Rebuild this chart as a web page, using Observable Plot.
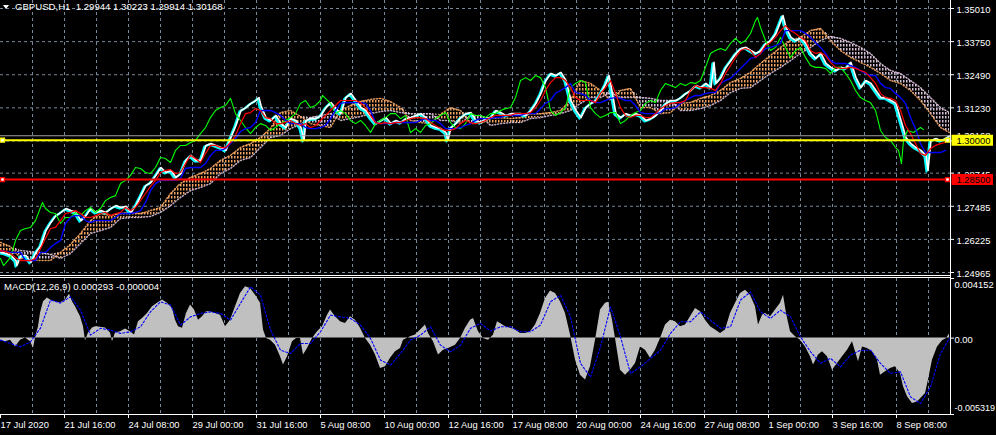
<!DOCTYPE html>
<html>
<head>
<meta charset="utf-8">
<script src="https://cdn.jsdelivr.net/npm/d3@7"></script>
<script src="https://cdn.jsdelivr.net/npm/@observablehq/plot@0.6"></script>
<style>
html,body{margin:0;padding:0;background:#000;}
#chart{position:relative;width:996px;height:435px;background:#000;overflow:hidden;font-family:"Liberation Sans",Arial,sans-serif;color:#fff;}
#chart svg{position:absolute;left:0;}
.lbl{position:absolute;font-size:9.6px;line-height:12px;white-space:pre;color:#fff;}
.hl{position:absolute;background:#fff;}
</style>
</head>
<body>
<div id="chart"></div>
<script>
// ---------- DATA ----------
const symbolTitle = "GBPUSD,H1  1.29944 1.30223 1.29914 1.30168";
const macdTitle = "MACD(12,26,9) 0.000293 -0.000004";

const priceTicks = [1.35010, 1.33750, 1.32490, 1.31230, 1.29970, 1.28745, 1.27485, 1.26225, 1.24965];
const priceTickLabelsShown = [1.35010, 1.33750, 1.32490, 1.31230, 1.28745, 1.27485, 1.26225, 1.24965];
const macdTicks = [0.004152, 0, -0.005319];
const macdTickLabels = ["0.004152", "0.00", "-0.005319"];
const timeTicks = [0, 64, 128, 192, 256, 320, 384, 448, 512, 576, 640, 704, 768, 832, 896];
const timeLabels = ["17 Jul 2020", "21 Jul 16:00", "24 Jul 08:00", "29 Jul 00:00", "31 Jul 16:00", "5 Aug 08:00",
  "10 Aug 00:00", "12 Aug 16:00", "17 Aug 08:00", "20 Aug 00:00", "24 Aug 16:00", "27 Aug 08:00",
  "1 Sep 00:00", "3 Sep 16:00", "8 Sep 08:00"];

const lastPrice = 1.30168;
const levelYellow = 1.30000;
const levelRed = 1.28500;

// price (bar index, close)
const price = [[0,1.2573],[5,1.2569],[10,1.2561],[15,1.2542],[16,1.2523],[20,1.2561],[25,1.2561],[30,1.2535],[35,1.2573],[40,1.2599],
[45,1.2656],[50,1.2687],[55,1.2713],[60,1.2725],[65,1.2740],[70,1.2732],[75,1.2725],[80,1.2694],[85,1.2713],[90,1.2740],
[95,1.2725],[100,1.2732],[105,1.2725],[110,1.2740],[115,1.2751],[120,1.2744],[125,1.2748],[130,1.2725],[135,1.2751],[140,1.2789],
[145,1.2828],[150,1.2839],[155,1.2866],[160,1.2896],[165,1.2877],[170,1.2885],[175,1.2858],[180,1.2873],[185,1.2923],[190,1.2942],
[195,1.2923],[200,1.2923],[205,1.2980],[210,1.2987],[215,1.2980],[220,1.2972],[225,1.2961],[230,1.3010],[235,1.3056],[240,1.3113],
[245,1.3124],[250,1.3140],[255,1.3151],[258,1.3162],[260,1.3132],[265,1.3086],[270,1.3075],[275,1.3094],[280,1.3063],[285,1.3048],
[290,1.3082],[295,1.3075],[300,1.3048],[303,1.2999],[305,1.3075],[310,1.3082],[315,1.3082],[320,1.3094],[325,1.3124],[330,1.3143],
[335,1.3120],[340,1.3101],[345,1.3162],[350,1.3178],[355,1.3151],[360,1.3124],[365,1.3113],[370,1.3086],[375,1.3063],[380,1.3075],
[385,1.3086],[390,1.3063],[395,1.3075],[400,1.3067],[405,1.3082],[410,1.3086],[415,1.3094],[420,1.3101],[425,1.3086],[430,1.3056],
[435,1.3048],[440,1.3044],[445,1.3029],[447,1.2999],[450,1.3048],[455,1.3063],[460,1.3086],[465,1.3101],[470,1.3105],[475,1.3075],
[480,1.3067],[485,1.3082],[490,1.3086],[495,1.3113],[500,1.3105],[505,1.3094],[510,1.3101],[515,1.3101],[520,1.3101],[525,1.3094],
[530,1.3113],[535,1.3140],[540,1.3178],[545,1.3227],[550,1.3254],[555,1.3246],[560,1.3258],[565,1.3227],[570,1.3151],[575,1.3113],
[580,1.3086],[585,1.3124],[590,1.3140],[595,1.3151],[600,1.3178],[605,1.3216],[608,1.3246],[610,1.3208],[615,1.3101],[620,1.3086],
[625,1.3101],[630,1.3094],[635,1.3101],[640,1.3094],[645,1.3075],[650,1.3082],[655,1.3094],[660,1.3113],[665,1.3140],[670,1.3151],
[675,1.3151],[680,1.3162],[685,1.3178],[690,1.3189],[695,1.3208],[700,1.3200],[705,1.3216],[710,1.3200],[713,1.3296],[715,1.3216],
[720,1.3238],[725,1.3277],[730,1.3303],[735,1.3330],[740,1.3349],[745,1.3353],[750,1.3341],[755,1.3330],[760,1.3341],[765,1.3368],
[770,1.3379],[775,1.3406],[780,1.3455],[782,1.3474],[785,1.3429],[790,1.3391],[795,1.3379],[800,1.3391],[805,1.3368],[810,1.3330],
[815,1.3311],[820,1.3330],[825,1.3292],[830,1.3277],[835,1.3265],[840,1.3277],[845,1.3273],[850,1.3296],[855,1.3238],[860,1.3200],
[865,1.3227],[870,1.3216],[875,1.3189],[880,1.3162],[885,1.3162],[890,1.3151],[895,1.3140],[900,1.3075],[905,1.3010],[910,1.2987],
[915,1.2972],[920,1.2961],[925,1.2942],[927,1.2885],[930,1.2999],[935,1.3006],[940,1.2999],[945,1.3006],[949,1.3017]];

// Ichimoku lines sampled every 5 bars, from bar 0 to bar 945
const ichiBars = d3.range(0, 946, 5);
const tenkan = [
1.2580,1.2576,1.2569,1.2554,1.2542,1.2542,1.2542,1.2550,1.2588,1.2626,
1.2664,1.2668,1.2694,1.2721,1.2725,1.2732,1.2721,1.2706,1.2706,1.2713,
1.2721,1.2725,1.2713,1.2721,1.2725,1.2744,1.2732,1.2744,1.2770,1.2797,
1.2824,1.2847,1.2877,1.2885,1.2888,1.2873,1.2877,1.2911,1.2942,1.2930,
1.2915,1.2949,1.2980,1.2980,1.2972,1.2972,1.2991,1.3018,1.3063,1.3101,
1.3105,1.3120,1.3113,1.3086,1.3082,1.3063,1.3063,1.3067,1.3075,1.3063,
1.3056,1.3063,1.3048,1.3056,1.3075,1.3094,1.3113,1.3132,1.3151,1.3151,
1.3151,1.3151,1.3143,1.3124,1.3094,1.3067,1.3063,1.3067,1.3063,1.3067,
1.3067,1.3075,1.3082,1.3086,1.3086,1.3082,1.3067,1.3056,1.3044,1.3037,
1.3037,1.3044,1.3063,1.3075,1.3067,1.3063,1.3067,1.3075,1.3086,1.3094,
1.3094,1.3094,1.3094,1.3101,1.3101,1.3101,1.3105,1.3124,1.3151,1.3189,
1.3219,1.3238,1.3238,1.3227,1.3200,1.3162,1.3151,1.3151,1.3151,1.3143,
1.3178,1.3200,1.3227,1.3178,1.3124,1.3094,1.3086,1.3094,1.3094,1.3086,
1.3086,1.3101,1.3120,1.3132,1.3140,1.3143,1.3143,1.3151,1.3189,1.3208,
1.3200,1.3200,1.3197,1.3189,1.3216,1.3254,1.3284,1.3315,1.3341,1.3349,
1.3341,1.3315,1.3330,1.3360,1.3372,1.3391,1.3417,1.3436,1.3417,1.3406,
1.3391,1.3379,1.3341,1.3330,1.3334,1.3322,1.3296,1.3277,1.3273,1.3273,
1.3277,1.3273,1.3265,1.3258,1.3238,1.3216,1.3178,1.3162,1.3159,1.3151,
1.3113,1.3056,1.3025,1.2987,1.2949,1.2942,1.2968,1.2980,1.2987,1.2991];
const kijun = [
1.2580,1.2576,1.2573,1.2573,1.2573,1.2542,1.2542,1.2542,1.2573,1.2573,
1.2592,1.2607,1.2618,1.2683,1.2706,1.2713,1.2713,1.2694,1.2687,1.2694,
1.2694,1.2694,1.2694,1.2706,1.2721,1.2721,1.2721,1.2725,1.2732,1.2763,
1.2808,1.2835,1.2847,1.2847,1.2847,1.2847,1.2854,1.2892,1.2896,1.2896,
1.2896,1.2911,1.2942,1.2961,1.2961,1.2968,1.2987,1.3006,1.3033,1.3044,
1.3048,1.3067,1.3113,1.3113,1.3113,1.3105,1.3094,1.3075,1.3063,1.3063,
1.3063,1.3048,1.3044,1.3044,1.3048,1.3056,1.3082,1.3113,1.3140,1.3143,
1.3143,1.3143,1.3143,1.3140,1.3113,1.3067,1.3063,1.3063,1.3063,1.3067,
1.3067,1.3067,1.3067,1.3067,1.3075,1.3082,1.3075,1.3075,1.3063,1.3044,
1.3044,1.3044,1.3048,1.3056,1.3063,1.3075,1.3082,1.3082,1.3082,1.3086,
1.3086,1.3094,1.3094,1.3094,1.3094,1.3101,1.3101,1.3101,1.3120,1.3140,
1.3151,1.3178,1.3189,1.3200,1.3216,1.3181,1.3178,1.3170,1.3151,1.3143,
1.3143,1.3151,1.3159,1.3162,1.3159,1.3151,1.3151,1.3132,1.3105,1.3101,
1.3101,1.3101,1.3105,1.3120,1.3120,1.3124,1.3140,1.3151,1.3162,1.3170,
1.3170,1.3178,1.3181,1.3181,1.3216,1.3227,1.3235,1.3254,1.3273,1.3292,
1.3311,1.3315,1.3330,1.3349,1.3353,1.3360,1.3368,1.3417,1.3417,1.3417,
1.3417,1.3406,1.3391,1.3372,1.3353,1.3330,1.3303,1.3292,1.3292,1.3292,
1.3284,1.3277,1.3265,1.3254,1.3246,1.3246,1.3216,1.3200,1.3197,1.3178,
1.3162,1.3140,1.3086,1.3044,1.2987,1.2953,1.2953,1.2953,1.2953,1.2961];

// Chikou span (bar index, value)
const chikou = [[0,1.2550],[3,1.2523],[5,1.2531],[10,1.2554],[15,1.2618],[20,1.2656],[25,1.2664],[30,1.2668],[35,1.2694],[40,1.2744],
[42,1.2763],[45,1.2740],[50,1.2725],[55,1.2721],[60,1.2683],[65,1.2706],[70,1.2706],[75,1.2725],[80,1.2713],[85,1.2732],
[90,1.2744],[95,1.2725],[100,1.2740],[105,1.2770],[110,1.2782],[115,1.2789],[120,1.2835],[125,1.2847],[130,1.2866],[135,1.2896],
[140,1.2892],[145,1.2877],[150,1.2873],[155,1.2896],[160,1.2934],[165,1.2930],[170,1.2915],[175,1.2961],[180,1.2980],[185,1.2980],
[190,1.2991],[195,1.2999],[200,1.3025],[205,1.3048],[210,1.3086],[215,1.3113],[220,1.3124],[225,1.3132],[230,1.3159],[235,1.3101],
[240,1.3075],[245,1.3048],[250,1.3025],[255,1.3048],[260,1.3063],[265,1.3056],[270,1.3037],[275,1.3048],[280,1.3063],[285,1.3075],
[290,1.3086],[295,1.3101],[300,1.3140],[305,1.3151],[310,1.3124],[315,1.3132],[320,1.3151],[322,1.3170],[325,1.3159],[330,1.3140],
[335,1.3101],[340,1.3113],[345,1.3101],[350,1.3075],[355,1.3063],[360,1.3075],[365,1.3056],[370,1.3029],[375,1.3063],[380,1.3075],
[385,1.3086],[390,1.3101],[395,1.3101],[400,1.3082],[405,1.3094],[410,1.3029],[415,1.3044],[420,1.3029],[425,1.3056],[430,1.3063],
[435,1.3082],[440,1.3094],[445,1.3105],[450,1.3067],[455,1.3048],[460,1.3044],[465,1.3063],[470,1.3101],[475,1.3094],[480,1.3094],
[485,1.3086],[490,1.3101],[495,1.3101],[500,1.3113],[505,1.3120],[510,1.3124],[515,1.3162],[520,1.3227],[525,1.3238],[530,1.3227],
[535,1.3246],[540,1.3238],[545,1.3200],[550,1.3113],[555,1.3094],[560,1.3105],[565,1.3124],[570,1.3200],[575,1.3216],[580,1.3227],
[585,1.3219],[590,1.3124],[595,1.3101],[600,1.3086],[605,1.3094],[610,1.3105],[615,1.3105],[620,1.3063],[625,1.3075],[630,1.3094],
[635,1.3105],[640,1.3113],[645,1.3140],[650,1.3151],[655,1.3143],[660,1.3189],[665,1.3216],[670,1.3208],[675,1.3200],[680,1.3216],
[685,1.3208],[690,1.3219],[695,1.3216],[700,1.3227],[705,1.3277],[710,1.3330],[715,1.3341],[720,1.3349],[725,1.3341],[730,1.3368],
[735,1.3387],[740,1.3368],[745,1.3379],[750,1.3406],[755,1.3455],[757,1.3467],[760,1.3429],[765,1.3379],[770,1.3341],[775,1.3353],
[780,1.3391],[785,1.3353],[790,1.3315],[795,1.3341],[800,1.3353],[805,1.3315],[810,1.3284],[815,1.3277],[820,1.3277],[825,1.3273],
[830,1.3254],[835,1.3277],[840,1.3277],[845,1.3254],[850,1.3227],[855,1.3189],[860,1.3162],[865,1.3151],[870,1.3143],[875,1.3113],
[880,1.3037],[885,1.3010],[890,1.2999],[895,1.2972],[898,1.2961],[901,1.2911],[903,1.2999],[907,1.3037],[913,1.3029],[920,1.3048],[923,1.3040]];

// Kumo (bar index, Senkou span A, Senkou span B)
const kumo = [[0,1.2611,1.2573],[10,1.2595,1.2565],[20,1.2550,1.2580],[30,1.2546,1.2576],[40,1.2542,1.2573],[50,1.2542,1.2565],
[60,1.2573,1.2550],[70,1.2603,1.2569],[80,1.2645,1.2607],[90,1.2694,1.2645],[100,1.2721,1.2656],[110,1.2713,1.2668],
[120,1.2721,1.2702],[130,1.2725,1.2706],[140,1.2721,1.2706],[150,1.2732,1.2710],[160,1.2744,1.2725],[170,1.2797,1.2751],
[180,1.2835,1.2782],[190,1.2858,1.2808],[200,1.2873,1.2820],[210,1.2892,1.2835],[220,1.2923,1.2873],[230,1.2942,1.2892],
[240,1.2972,1.2923],[250,1.2987,1.2934],[260,1.3010,1.2972],[270,1.3044,1.3010],[280,1.3105,1.3018],[290,1.3113,1.3044],
[300,1.3090,1.3060],[310,1.3063,1.3086],[320,1.3056,1.3094],[330,1.3048,1.3101],[340,1.3113,1.3075],[350,1.3132,1.3082],
[360,1.3147,1.3090],[370,1.3155,1.3101],[380,1.3159,1.3109],[390,1.3147,1.3113],[400,1.3124,1.3105],[410,1.3075,1.3101],
[420,1.3067,1.3101],[430,1.3063,1.3101],[440,1.3098,1.3075],[450,1.3124,1.3075],[460,1.3113,1.3063],[470,1.3063,1.3094],
[480,1.3063,1.3094],[490,1.3082,1.3056],[500,1.3086,1.3063],[510,1.3082,1.3067],[520,1.3086,1.3067],[530,1.3101,1.3082],
[540,1.3101,1.3086],[550,1.3105,1.3094],[560,1.3113,1.3101],[570,1.3151,1.3113],[580,1.3227,1.3140],[590,1.3216,1.3162],
[600,1.3189,1.3162],[610,1.3151,1.3181],[620,1.3189,1.3162],[630,1.3197,1.3162],[640,1.3124,1.3162],[650,1.3124,1.3159],
[660,1.3101,1.3151],[670,1.3105,1.3151],[680,1.3140,1.3113],[690,1.3143,1.3113],[700,1.3159,1.3120],[710,1.3170,1.3132],
[720,1.3189,1.3151],[730,1.3219,1.3181],[740,1.3235,1.3197],[750,1.3258,1.3200],[760,1.3292,1.3227],[770,1.3322,1.3254],
[780,1.3353,1.3277],[790,1.3379,1.3303],[800,1.3391,1.3330],[810,1.3417,1.3353],[820,1.3425,1.3379],[830,1.3379,1.3395],
[840,1.3341,1.3387],[850,1.3315,1.3372],[860,1.3296,1.3353],[870,1.3277,1.3330],[880,1.3254,1.3292],[890,1.3227,1.3265],
[900,1.3216,1.3254],[910,1.3189,1.3227],[920,1.3151,1.3200],[930,1.3101,1.3162],[940,1.3048,1.3124],[949,1.3029,1.3105]];

// MACD main (bar index, value)
const macd = [[0,-0.00014],[5,-0.00026],[10,-0.00014],[15,-0.00061],[20,-0.00014],[25,0],[30,-0.00026],[33,-0.0007],[35,0],[38,0.00079],
[40,0.00174],[43,0.00253],[47,0.00279],[50,0.00265],[55,0.00253],[60,0.00244],[65,0.00265],[69,0.00306],[72,0.00253],[75,0.00218],
[80,0.00148],[83,0.00079],[85,-0.00019],[88,0.00035],[92,0.0007],[95,0.00079],[100,0.00075],[105,0.0007],[110,0.00035],[112,-0.00026],
[115,0.00035],[120,0.00044],[125,0.00063],[130,0.00044],[134,0.00021],[138,0.00114],[142,0.00137],[147,0.00172],[152,0.00218],[157,0.00242],
[162,0.00265],[167,0.00242],[172,0.00207],[175,0.00125],[178,0.00079],[182,0.00068],[186,0.00172],[190,0.0023],[194,0.00195],[198,0.00125],
[202,0.00148],[206,0.00183],[210,0.00183],[215,0.00172],[220,0.0016],[225,0.00079],[230,0.00125],[235,0.00218],[240,0.00311],[245,0.00357],
[250,0.00346],[255,0.00299],[260,0.00242],[263,0.00056],[266,-0.00002],[270,-0.00014],[275,-0.00049],[280,-0.0013],[283,-0.00188],[287,-0.0013],
[292,-0.00026],[296,-0.00002],[300,-0.00002],[303,-0.00118],[307,-0.00072],[312,-0.00002],[317,0.00044],[322,0.00079],[327,0.0016],[330,0.00195],
[335,0.00148],[340,0.00114],[345,0.00102],[350,0.00148],[355,0.00125],[360,0.00068],[365,-0.00002],[370,-0.00049],[375,-0.00118],[380,-0.00211],
[385,-0.002],[390,-0.00141],[395,-0.00095],[400,-0.00072],[403,-0.00014],[410,0.00009],[415,0.00021],[420,0.00056],[425,0.00091],[428,0.00033],
[433,-0.00026],[438,-0.00118],[443,-0.00084],[448,-0.00072],[455,-0.00049],[460,-0.00002],[465,0.00068],[470,0.00125],[473,0.00137],[478,0.00044],
[483,-0.00002],[488,-0.00014],[493,0.00021],[497,0.00114],[500,0.00102],[505,0.00079],[510,0.00068],[515,0.00056],[520,0.00033],[525,0.00033],
[530,0.00044],[535,0.00091],[540,0.00172],[545,0.00276],[550,0.00329],[555,0.00311],[560,0.00253],[565,0.00172],[570,0.00021],[575,-0.00153],
[580,-0.00258],[585,-0.00292],[590,-0.002],[595,-0.00014],[600,0.00195],[605,0.00242],[608,0.00249],[612,0.00125],[615,-0.00002],[620,-0.00223],
[625,-0.00258],[630,-0.00223],[635,-0.00176],[640,-0.00061],[645,-0.00084],[650,-0.00141],[655,-0.00084],[660,-0.00002],[665,0.00091],[670,0.00125],
[675,0.00114],[680,0.00079],[685,0.00091],[690,0.00148],[695,0.00207],[700,0.00183],[705,0.00125],[710,0.00079],[715,0.00056],[720,0.00033],
[725,0.00056],[730,0.00172],[735,0.00242],[740,0.00311],[745,0.00334],[750,0.00299],[755,0.00218],[758,0.00091],[762,0.0016],[765,0.00172],
[770,0.00148],[775,0.00195],[780,0.00242],[783,0.00299],[786,0.00172],[790,0.00044],[795,0.00009],[800,-0.00014],[805,-0.00061],[810,-0.0013],
[813,-0.00188],[818,-0.00118],[822,-0.00095],[827,-0.0013],[832,-0.00223],[837,-0.00176],[842,-0.0013],[847,-0.00084],[852,-0.00026],[855,-0.00095],
[858,-0.00165],[862,-0.00061],[867,-0.00072],[872,-0.00095],[877,-0.00153],[880,-0.00258],[885,-0.00235],[890,-0.00211],[895,-0.002],[900,-0.00246],
[903,-0.00339],[907,-0.00409],[912,-0.00455],[917,-0.00444],[922,-0.00409],[925,-0.00385],[928,-0.00292],[932,-0.00153],[937,-0.00061],[942,-0.00019],
[946,-0.00002],[949,0.000293]];

// MACD signal (bar index, value)
const signal = [[0,-0.00014],[20,-0.00061],[30,-0.00026],[40,0.0007],[50,0.00265],[60,0.00244],[70,0.00288],[80,0.00195],[90,0.00021],[100,0.00068],
[110,0.00056],[120,0.00033],[130,0.00044],[140,0.00079],[150,0.00183],[160,0.00253],[170,0.0023],[180,0.00091],[190,0.00148],[200,0.00172],
[210,0.00183],[220,0.00172],[230,0.00125],[240,0.00242],[250,0.00357],[260,0.00299],[270,0.00056],[280,-0.00084],[290,-0.00107],[300,-0.00037],
[310,-0.00037],[320,0.00044],[330,0.0016],[340,0.00148],[350,0.00137],[360,0.00091],[370,-0.00002],[380,-0.00153],[390,-0.00188],[400,-0.00107],
[410,-0.00014],[420,0.00021],[430,0.00079],[440,-0.00049],[450,-0.00095],[460,-0.00049],[470,0.00068],[480,0.00102],[490,0.0005],[500,0.00079],
[510,0.00079],[520,0.00044],[530,0.00044],[540,0.00091],[550,0.00253],[560,0.00299],[570,0.00148],[580,-0.00176],[590,-0.0027],[600,-0.00061],
[610,0.00218],[620,0.00009],[630,-0.00246],[640,-0.002],[650,-0.00141],[660,-0.00084],[670,0.00033],[680,0.00114],[690,0.00114],[700,0.00183],
[710,0.00125],[720,0.00068],[730,0.00079],[740,0.00265],[750,0.00322],[760,0.00183],[770,0.00137],[780,0.00195],[790,0.00148],[800,0.00009],
[810,-0.00095],[820,-0.00176],[830,-0.00141],[840,-0.002],[850,-0.00118],[860,-0.00084],[870,-0.00084],[880,-0.00176],[890,-0.00246],[900,-0.00235],
[910,-0.00409],[920,-0.00455],[930,-0.00339],[940,-0.00107],[949,-0.000004]];

// ---------- RENDER ----------
const FONT = "Liberation Sans, Arial, sans-serif";
const FS = "9.4px";
const GRID = "#778899";
const gridBars = d3.range(32, 950, 32);
const xDomain = [0, 950];

const mainSvg = Plot.plot({
  width: 996, height: 276,
  marginLeft: 0, marginRight: 46, marginTop: 8, marginBottom: 4,
  style: {background: "transparent", color: "#fff", fontFamily: FONT, fontSize: FS, overflow: "visible"},
  x: {domain: xDomain, axis: null},
  y: {domain: [priceTicks[priceTicks.length - 1], priceTicks[0]], axis: null},
  marks: [
    Plot.ruleX(gridBars, {stroke: GRID, strokeDasharray: "3,3", insetTop: -8, insetBottom: -2}),
    Plot.ruleY(priceTicks, {stroke: GRID, strokeDasharray: "3,3"}),
    // Kumo hatch: A above B (sandy brown), B above A (thistle)
    Plot.areaY(kumo, {x: d => d[0], y1: d => d[2], y2: d => Math.max(d[1], d[2]), fill: "url(#hatchO)"}),
    Plot.areaY(kumo, {x: d => d[0], y1: d => d[1], y2: d => Math.max(d[1], d[2]), fill: "url(#hatchT)"}),
    Plot.line(kumo, {x: d => d[0], y: d => d[1], stroke: "#F4A460", strokeDasharray: "1,2", strokeOpacity: 0.9}),
    Plot.line(kumo, {x: d => d[0], y: d => d[2], stroke: "#D8BFD8", strokeDasharray: "1,2", strokeOpacity: 0.9}),
    // price
    Plot.line(price, {x: d => d[0], y: d => d[1], stroke: "#00FFFF", strokeWidth: 2.2, dx: -1, dy: 1}),
    Plot.line(price, {x: d => d[0], y: d => d[1], stroke: "#FFFFFF", strokeWidth: 1.6, dx: 0.5}),
    // Ichimoku lines
    Plot.line(chikou, {x: d => d[0], y: d => d[1], stroke: "#00FF00", strokeWidth: 1.1}),
    Plot.line(ichiBars, {x: d => d, y: (d, i) => kijun[i], stroke: "#0000FF", strokeWidth: 1.4}),
    Plot.line(ichiBars, {x: d => d, y: (d, i) => tenkan[i], stroke: "#FF0000", strokeWidth: 1.2}),
    // levels
    Plot.ruleY([lastPrice], {stroke: "#a0a0a4", strokeWidth: 1}),
    Plot.ruleY([levelYellow], {stroke: "#FFFF00", strokeWidth: 2}),
    Plot.ruleY([levelRed], {stroke: "#FF0000", strokeWidth: 2}),
    Plot.dot([levelYellow], {x: 2, y: d => d, symbol: "square", r: 2.2, fill: "#fff", stroke: "#FFFF00", strokeWidth: 1.4}),
    Plot.dot([levelYellow], {x: 947, y: d => d, symbol: "square", r: 2.2, fill: "#fff", stroke: "#FFFF00", strokeWidth: 1.4}),
    Plot.dot([levelRed], {x: 2, y: d => d, symbol: "square", r: 2.2, fill: "#fff", stroke: "#FF0000", strokeWidth: 1.4}),
    Plot.dot([levelRed], {x: 947, y: d => d, symbol: "square", r: 2.2, fill: "#fff", stroke: "#FF0000", strokeWidth: 1.4}),
    // right price axis
    Plot.ruleY(priceTicks, {x1: 950, x2: 954, stroke: "#fff"}),
    Plot.text(priceTickLabelsShown, {x: 956, y: d => d, text: d => d.toFixed(5), textAnchor: "start", fill: "#fff", dy: 1.5}),
    Plot.text([lastPrice], {x: 956, y: d => d, text: d => d.toFixed(5), textAnchor: "start", fill: "#fff", dy: 0.5}),
    Plot.ruleY([levelYellow], {x1: 951.5, x2: 993, stroke: "#FFFF00", strokeWidth: 11}),
    Plot.text([levelYellow], {x: 956, y: d => d, text: d => d.toFixed(5), textAnchor: "start", fill: "#000", dy: 0.5}),
    Plot.ruleY([levelRed], {x1: 951.5, x2: 993, stroke: "#FF0000", strokeWidth: 11}),
    Plot.text([levelRed], {x: 956, y: d => d, text: d => d.toFixed(5), textAnchor: "start", fill: "#000", dy: 0.5})
  ]
});

const defs = d3.select(mainSvg).insert("defs", ":first-child");
[["hatchO", "#F4A460"], ["hatchT", "#D8BFD8"]].forEach(([id, c]) => {
  const p = defs.append("pattern").attr("id", id).attr("patternUnits", "userSpaceOnUse")
    .attr("width", 3).attr("height", 4);
  p.append("rect").attr("x", 0).attr("y", 0).attr("width", 1.5).attr("height", 2.5).attr("fill", c);
});

const macdSvg = Plot.plot({
  width: 996, height: 161,
  marginLeft: 0, marginRight: 46, marginTop: 4, marginBottom: 21,
  style: {background: "transparent", color: "#fff", fontFamily: FONT, fontSize: FS, overflow: "visible"},
  x: {domain: xDomain, axis: null},
  y: {domain: [macdTicks[2], macdTicks[0]], axis: null},
  marks: [
    Plot.ruleX(gridBars, {stroke: GRID, strokeDasharray: "3,3"}),
    Plot.areaY(macd, {x: d => d[0], y: d => d[1], fill: "#C0C0C0"}),
    Plot.line(signal, {x: d => d[0], y: d => d[1], stroke: "#0000FF", strokeWidth: 1.1, strokeDasharray: "2,2"}),
    Plot.ruleY(macdTicks, {x1: 950, x2: 954, stroke: "#fff"}),
    Plot.text([macdTicks[0]], {x: 954, y: d => d, text: () => macdTickLabels[0], textAnchor: "start", fill: "#fff", dy: 6.5}),
    Plot.text([macdTicks[1]], {x: 954, y: d => d, text: () => macdTickLabels[1], textAnchor: "start", fill: "#fff", dy: 1.5}),
    Plot.text([macdTicks[2]], {x: 954, y: d => d, text: () => macdTickLabels[2], textAnchor: "start", fill: "#fff", dy: -6, fontSize: 9}),
    Plot.ruleX(timeTicks, {y1: macdTicks[2], y2: -0.0056, stroke: "#fff"}),
    Plot.text(timeTicks, {x: d => d, y: macdTicks[2], text: (d, i) => timeLabels[i], textAnchor: "start", fill: "#fff", dy: 10, dx: 0})
  ]
});

const chart = document.getElementById("chart");
mainSvg.style.top = "0px";
macdSvg.style.top = "274px";
chart.appendChild(mainSvg);
chart.appendChild(macdSvg);

function addDiv(cls, css, text) {
  const d = document.createElement("div");
  d.className = cls;
  d.style.cssText = css;
  if (text) d.textContent = text;
  chart.appendChild(d);
  return d;
}
// frame lines
addDiv("hl", "left:0;top:275px;width:951px;height:1px;");
addDiv("hl", "left:0;top:277px;width:951px;height:1px;");
addDiv("hl", "left:0;top:414px;width:951px;height:1px;");
addDiv("hl", "left:950px;top:0;width:1px;height:415px;");
// titles
addDiv("", "position:absolute;left:3px;top:5px;width:0;height:0;border-left:3.5px solid transparent;border-right:3.5px solid transparent;border-top:4px solid #fff;");
addDiv("lbl", "left:15px;top:1px;", symbolTitle);
addDiv("lbl", "left:4px;top:281px;", macdTitle);
</script>
</body>
</html>
